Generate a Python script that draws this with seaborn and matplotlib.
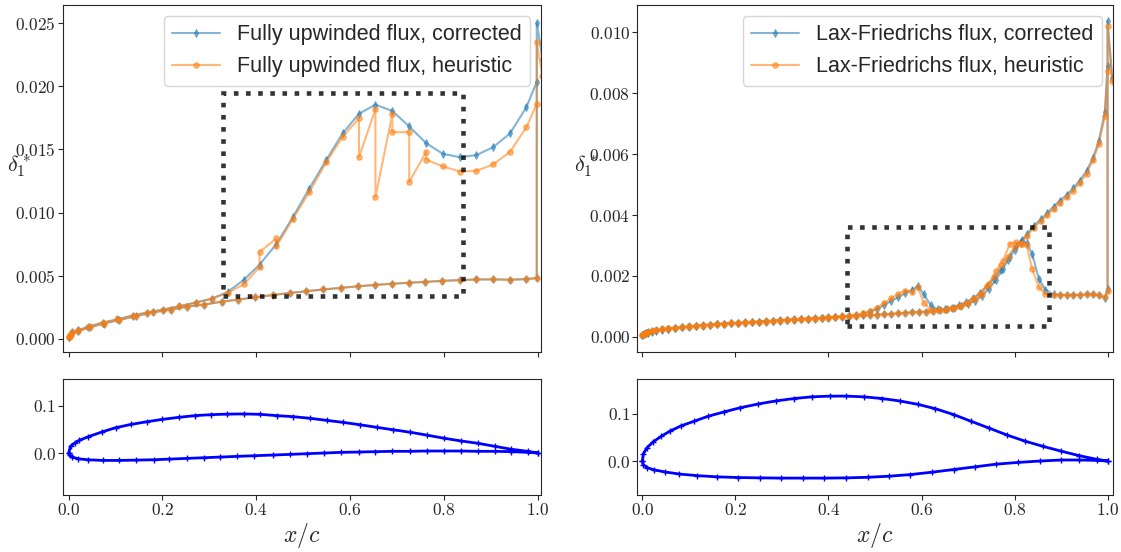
import matplotlib
matplotlib.use('Agg')
import matplotlib.pyplot as plt
import seaborn as sns
from matplotlib.patches import Rectangle
from matplotlib.ticker import FuncFormatter, MultipleLocator

sns.set_style('ticks')
plt.rcParams['font.family'] = ['Liberation Sans', 'DejaVu Sans']
plt.rcParams['mathtext.fontset'] = 'cm'

C_CORR = '#1f77b4'
C_HEUR = '#ff7f0e'

# ---------------- left case: fully upwinded flux ----------------
# upper surface, leading edge -> trailing edge
up_x_l = [0.0, 0.003, 0.008, 0.02, 0.042, 0.073, 0.104, 0.137, 0.168, 0.201,
          0.235, 0.271, 0.305, 0.339, 0.374, 0.407, 0.443, 0.478, 0.513, 0.549,
          0.584, 0.619, 0.654, 0.69, 0.726, 0.762, 0.798, 0.834, 0.869, 0.905,
          0.941, 0.976, 0.998]
up_corr_l = [0.0001, 0.0003, 0.0005, 0.00065, 0.00095, 0.00127, 0.00153, 0.00183, 0.00207, 0.0023,
             0.00256, 0.00286, 0.00317, 0.0037, 0.00468, 0.00587, 0.0075, 0.00963, 0.0119, 0.01415,
             0.01627, 0.01783, 0.01855, 0.01805, 0.01683, 0.0155, 0.01465, 0.01439, 0.01455, 0.01518,
             0.01627, 0.01836, 0.02037]
up_xh_l = [0.0, 0.003, 0.008, 0.02, 0.042, 0.073, 0.104, 0.137, 0.168, 0.201,
           0.235, 0.271, 0.305, 0.339, 0.374, 0.407, 0.407, 0.443, 0.443, 0.478,
           0.513, 0.549, 0.584, 0.619, 0.619, 0.654, 0.654, 0.69, 0.69, 0.726,
           0.726, 0.762, 0.762, 0.798, 0.834, 0.869, 0.905, 0.941, 0.976, 0.998]
up_heur_l = [0.0001, 0.0003, 0.0005, 0.00065, 0.00095, 0.00127, 0.00153, 0.00183, 0.00207, 0.0023,
             0.00256, 0.00286, 0.00317, 0.00362, 0.00433, 0.00566, 0.00687, 0.00794, 0.00733, 0.0095,
             0.0116, 0.01398, 0.016, 0.01746, 0.01439, 0.01817, 0.01121, 0.01778, 0.01637, 0.01637,
             0.0124, 0.01481, 0.0142, 0.01365, 0.01325, 0.0133, 0.01381, 0.01481, 0.01677, 0.01862]
# lower surface, leading edge -> trailing edge
lo_x_l = [0.0, 0.002, 0.006, 0.02, 0.045, 0.075, 0.108, 0.144, 0.18, 0.218,
          0.253, 0.288, 0.326, 0.362, 0.398, 0.436, 0.471, 0.507, 0.543, 0.58,
          0.616, 0.654, 0.689, 0.725, 0.76, 0.797, 0.834, 0.869, 0.905, 0.941,
          0.976, 0.998]
lo_corr_l = [0.0001, 0.00018, 0.0003, 0.0006, 0.0009, 0.0012, 0.00148, 0.0018, 0.00209, 0.0023,
             0.00254, 0.0027, 0.00293, 0.0031, 0.00328, 0.00346, 0.00362, 0.00376, 0.0039, 0.00402,
             0.00415, 0.00426, 0.00435, 0.00443, 0.0045, 0.00458, 0.00464, 0.00469, 0.0047, 0.00467,
             0.00472, 0.0048]
lo_heur_l = [0.0001, 0.00018, 0.0003, 0.0006, 0.0009, 0.0012, 0.00148, 0.0018, 0.00209, 0.0023,
             0.00254, 0.0027, 0.00292, 0.0031, 0.00328, 0.00346, 0.00362, 0.00376, 0.0039, 0.00402,
             0.00415, 0.00426, 0.00435, 0.00443, 0.0045, 0.00458, 0.00464, 0.00469, 0.0047, 0.00467,
             0.00472, 0.0048]
# wake
wk_x_l = [0.998, 1.01, 1.03]
wk_corr_l = [0.02505, 0.0222, 0.0200]
wk_heur_l = [0.0235, 0.0208, 0.0190]

# airfoil outline
af_ux_l = [0.0, 0.004, 0.013, 0.023, 0.041, 0.072, 0.1, 0.133, 0.167, 0.2, 0.235, 0.269, 0.304,
           0.338, 0.373, 0.408, 0.444, 0.479, 0.515, 0.55, 0.585, 0.621, 0.658, 0.692, 0.727,
           0.764, 0.8, 0.836, 0.872, 0.908, 0.944, 0.979, 1.0]
af_uy_l = [0.0, 0.0143, 0.0214, 0.027, 0.0343, 0.045, 0.0536, 0.0607, 0.0664, 0.0714, 0.0757,
           0.0793, 0.0814, 0.0825, 0.0829, 0.0821, 0.0793, 0.0771, 0.0736, 0.0693, 0.065, 0.06,
           0.0543, 0.0493, 0.0443, 0.0379, 0.0314, 0.0257, 0.0207, 0.0143, 0.0079, 0.0036, 0.0]
af_lx_l = [0.0, 0.002, 0.008, 0.019, 0.041, 0.073, 0.108, 0.144, 0.181, 0.215, 0.252, 0.288,
           0.323, 0.359, 0.396, 0.435, 0.472, 0.508, 0.544, 0.581, 0.618, 0.654, 0.69, 0.727,
           0.764, 0.8, 0.836, 0.873, 0.908, 0.944, 0.979, 1.0]
af_ly_l = [0.0, -0.005, -0.0086, -0.012, -0.0143, -0.0157, -0.0157, -0.015, -0.0143, -0.0129,
           -0.0114, -0.01, -0.0086, -0.0071, -0.0057, -0.0043, -0.0029, -0.0014, 0.0, 0.0014,
           0.0021, 0.0029, 0.0036, 0.0036, 0.0043, 0.0043, 0.0043, 0.0036, 0.0036, 0.0029,
           0.0014, 0.0]

# ---------------- right case: Lax-Friedrichs flux ----------------
up_x_r = [0.0, 0.003, 0.007, 0.013, 0.02, 0.03, 0.042, 0.056, 0.07, 0.085,
          0.1, 0.115, 0.13, 0.145, 0.16, 0.175, 0.19, 0.205, 0.22, 0.235,
          0.25, 0.265, 0.28, 0.295, 0.31, 0.325, 0.34, 0.355, 0.37, 0.385,
          0.4, 0.415, 0.43, 0.445, 0.46, 0.475, 0.49, 0.505, 0.52, 0.535,
          0.55, 0.565, 0.58, 0.592, 0.605, 0.62, 0.635, 0.65, 0.665, 0.68,
          0.695, 0.71, 0.725, 0.74, 0.755, 0.77, 0.785, 0.8, 0.813, 0.827,
          0.841, 0.856, 0.87, 0.884, 0.897, 0.912, 0.926, 0.94, 0.955, 0.969,
          0.981, 0.994, 1.0]
up_corr_r = [0.00005, 0.00009, 0.00012, 0.00015, 0.00018, 0.00021, 0.00024, 0.00027, 0.0003, 0.00032,
             0.00034, 0.00036, 0.00038, 0.0004, 0.00042, 0.00043, 0.00045, 0.00046, 0.00047, 0.00049,
             0.0005, 0.00051, 0.00053, 0.00054, 0.00056, 0.00057, 0.00058, 0.0006, 0.00061, 0.00062,
             0.00064, 0.00065, 0.00067, 0.00069, 0.00071, 0.00075, 0.00082, 0.00092, 0.00104, 0.00118,
             0.0013, 0.00143, 0.00155, 0.00166, 0.0014, 0.00103, 0.0009, 0.00091, 0.00096, 0.00103,
             0.00113, 0.00126, 0.00143, 0.00166, 0.00191, 0.00221, 0.00251, 0.00285, 0.00312, 0.00337,
             0.00364, 0.00386, 0.00406, 0.00428, 0.00447, 0.00466, 0.00488, 0.00513, 0.00545, 0.00589,
             0.00643, 0.00737, 0.0089]
up_heur_r = [0.00006, 0.0001, 0.00013, 0.00016, 0.00019, 0.00022, 0.00025, 0.00028, 0.0003, 0.00032,
             0.00034, 0.00036, 0.00038, 0.0004, 0.00042, 0.00043, 0.00045, 0.00046, 0.00047, 0.00049,
             0.0005, 0.00051, 0.00053, 0.00054, 0.00056, 0.00057, 0.00058, 0.0006, 0.00061, 0.00062,
             0.00064, 0.00065, 0.00067, 0.00069, 0.00071, 0.00077, 0.00085, 0.00096, 0.00112, 0.00126,
             0.00141, 0.00152, 0.00148, 0.00162, 0.00112, 0.00089, 0.00087, 0.00089, 0.00094, 0.00101,
             0.00111, 0.00124, 0.00142, 0.00168, 0.00196, 0.00236, 0.00262, 0.00295, 0.00305, 0.00332,
             0.00358, 0.0038, 0.004, 0.0042, 0.0044, 0.00458, 0.0048, 0.00505, 0.00536, 0.00582,
             0.00632, 0.00724, 0.00874]
lo_x_r = [0.0, 0.003, 0.007, 0.013, 0.02, 0.03, 0.042, 0.056, 0.07, 0.085,
          0.1, 0.115, 0.13, 0.145, 0.16, 0.175, 0.19, 0.205, 0.22, 0.235,
          0.25, 0.265, 0.28, 0.295, 0.31, 0.325, 0.34, 0.355, 0.37, 0.385,
          0.4, 0.415, 0.43, 0.445, 0.46, 0.475, 0.49, 0.505, 0.52, 0.535,
          0.55, 0.565, 0.58, 0.595, 0.61, 0.625, 0.64, 0.655, 0.67, 0.685,
          0.7, 0.715, 0.73, 0.745, 0.76, 0.775, 0.79, 0.803, 0.815, 0.826,
          0.838, 0.852, 0.866, 0.884, 0.897, 0.912, 0.926, 0.94, 0.955, 0.969,
          0.981, 0.994, 1.0]
lo_corr_r = [0.00005, 0.00008, 0.00011, 0.00014, 0.00017, 0.0002, 0.00023, 0.00026, 0.00029, 0.00031,
             0.00033, 0.00035, 0.00037, 0.00039, 0.00041, 0.00042, 0.00044, 0.00045, 0.00046, 0.00048,
             0.00049, 0.0005, 0.00052, 0.00053, 0.00055, 0.00056, 0.00057, 0.00059, 0.0006, 0.00061,
             0.00063, 0.00064, 0.00066, 0.00067, 0.00068, 0.0007, 0.00071, 0.00072, 0.00074, 0.00075,
             0.00077, 0.00078, 0.0008, 0.00081, 0.00083, 0.00085, 0.00088, 0.00091, 0.00096, 0.00101,
             0.00108, 0.00118, 0.00134, 0.00158, 0.00188, 0.00223, 0.00262, 0.00298, 0.00318, 0.00308,
             0.00272, 0.00191, 0.00155, 0.00139, 0.00137, 0.00137, 0.00137, 0.00138, 0.00139, 0.00139,
             0.00137, 0.00128, 0.00156]
lo_heur_r = [0.00006, 0.00009, 0.00012, 0.00015, 0.00018, 0.00021, 0.00024, 0.00027, 0.00029, 0.00031,
             0.00033, 0.00035, 0.00037, 0.00039, 0.00041, 0.00042, 0.00044, 0.00045, 0.00046, 0.00048,
             0.00049, 0.0005, 0.00052, 0.00053, 0.00055, 0.00056, 0.00057, 0.00059, 0.0006, 0.00061,
             0.00063, 0.00064, 0.00066, 0.00067, 0.00068, 0.0007, 0.00071, 0.00072, 0.00074, 0.00075,
             0.00077, 0.00078, 0.0008, 0.00081, 0.00083, 0.00085, 0.00088, 0.00091, 0.00096, 0.00101,
             0.00112, 0.00125, 0.00142, 0.00172, 0.00215, 0.0025, 0.00305, 0.00312, 0.00305, 0.00302,
             0.00222, 0.00164, 0.0014, 0.00138, 0.00137, 0.00137, 0.00137, 0.00138, 0.00139, 0.00139,
             0.00137, 0.0013, 0.00152]
wk_x_r = [1.0, 1.01, 1.03]
wk_corr_r = [0.01038, 0.0085, 0.0075]
wk_heur_r = [0.0102, 0.0084, 0.0074]

af_ux_r = [0.0, 0.002, 0.01, 0.023, 0.041, 0.06, 0.083, 0.11, 0.141, 0.176, 0.21, 0.249, 0.287,
           0.326, 0.364, 0.403, 0.438, 0.476, 0.515, 0.553, 0.592, 0.63, 0.669, 0.707, 0.746,
           0.784, 0.823, 0.861, 0.9, 0.938, 0.977, 1.0]
af_uy_r = [0.0, 0.0152, 0.0283, 0.0406, 0.0529, 0.0638, 0.0746, 0.084, 0.0949, 0.1043, 0.113,
           0.121, 0.1275, 0.1326, 0.1362, 0.1377, 0.1377, 0.1362, 0.1326, 0.1275, 0.1203, 0.1109,
           0.0986, 0.0841, 0.0696, 0.0551, 0.042, 0.0312, 0.021, 0.0116, 0.0036, 0.0]
af_lx_r = [0.0, 0.002, 0.01, 0.025, 0.049, 0.079, 0.118, 0.16, 0.206, 0.253, 0.299, 0.345, 0.391,
           0.438, 0.484, 0.53, 0.576, 0.622, 0.669, 0.715, 0.761, 0.807, 0.854, 0.9, 0.938, 0.977, 1.0]
af_ly_r = [0.0, -0.008, -0.0138, -0.0188, -0.0232, -0.0275, -0.031, -0.0335, -0.035, -0.0357,
           -0.0362, -0.0362, -0.0362, -0.0357, -0.0345, -0.0322, -0.0287, -0.0237, -0.018, -0.0123,
           -0.0066, -0.003, 0.0, 0.0022, 0.0022, 0.0014, 0.0]


def cm_fmt(digits):
    return FuncFormatter(lambda v, p: f'${v:.{digits}f}$')


# displacement thickness along upper (TE->LE), lower (LE->TE) and wake
def thickness_panel(ax, name, upx, upc, upxh, uph, lox, loc_, loh, wkx, wkc, wkh):
    xc = upx[::-1] + lox + wkx
    yc = upc[::-1] + loc_ + wkc
    xh = upxh[::-1] + lox + wkx
    yh = uph[::-1] + loh + wkh
    sns.lineplot(x=xc, y=yc, sort=False, estimator=None, ax=ax, color=C_CORR, alpha=0.55,
                 lw=1.5, marker='d', markersize=4, markeredgecolor=C_CORR, markeredgewidth=0.8,
                 label=f'{name} flux, corrected')
    sns.lineplot(x=xh, y=yh, sort=False, estimator=None, ax=ax, color=C_HEUR, alpha=0.55,
                 lw=1.5, marker='o', markersize=4, markeredgecolor=C_HEUR, markeredgewidth=0.8,
                 label=f'{name} flux, heuristic')
    ax.legend(loc='upper right', fontsize=15.5, handlelength=2.2)
    ax.set_xticks([0, 0.2, 0.4, 0.6, 0.8, 1.0])
    ax.set_xticklabels([])
    ax.set_xlabel('')
    ax.set_ylabel(r'$\delta_1^*$', rotation=0, fontsize=16, va='center', ha='center')
    ax.yaxis.set_major_formatter(cm_fmt(3))
    ax.tick_params(labelsize=12.5, length=3.5, pad=1.5)


def airfoil_panel(ax, ux, uy, lx, ly):
    x = ux[::-1] + lx
    y = uy[::-1] + ly
    sns.lineplot(x=x, y=y, sort=False, estimator=None, ax=ax, color='blue', lw=2,
                 marker='+', markersize=4, markeredgecolor='blue', markeredgewidth=1)
    ax.set_xticks([0, 0.2, 0.4, 0.6, 0.8, 1.0])
    ax.yaxis.set_major_locator(MultipleLocator(0.1))
    ax.xaxis.set_major_formatter(cm_fmt(1))
    ax.yaxis.set_major_formatter(cm_fmt(1))
    ax.set_xlabel(r'$x/c$', fontsize=17, labelpad=2)
    ax.set_ylabel('')
    ax.tick_params(labelsize=12.5, length=3.5, pad=1.5)


fig = plt.figure(figsize=(11.21, 5.52), dpi=100)
ax1 = fig.add_axes([0.0562, 0.3623, 0.4264, 0.6286])
ax2 = fig.add_axes([0.5685, 0.3623, 0.4241, 0.6286])
ax3 = fig.add_axes([0.0562, 0.1033, 0.4264, 0.2101])
ax4 = fig.add_axes([0.5685, 0.1033, 0.4241, 0.2101])

thickness_panel(ax1, 'Fully upwinded', up_x_l, up_corr_l, up_xh_l, up_heur_l,
                lo_x_l, lo_corr_l, lo_heur_l, wk_x_l, wk_corr_l, wk_heur_l)
ax1.set_xlim(-0.012, 1.007)
ax1.set_ylim(-0.00106, 0.02645)
ax1.yaxis.set_major_locator(MultipleLocator(0.005))
ax1.yaxis.set_label_coords(-0.093, 0.535)
ax1.add_patch(Rectangle((0.33, 0.0034), 0.51, 0.0161, fill=False, ec='k', alpha=0.8,
                        ls=':', lw=3.3, zorder=5))

thickness_panel(ax2, 'Lax-Friedrichs', up_x_r, up_corr_r, up_x_r, up_heur_r,
                lo_x_r, lo_corr_r, lo_heur_r, wk_x_r, wk_corr_r, wk_heur_r)
ax2.set_xlim(-0.011, 1.011)
ax2.set_ylim(-0.0005, 0.0109)
ax2.yaxis.set_major_locator(MultipleLocator(0.002))
ax2.yaxis.set_label_coords(-0.107, 0.535)
ax2.add_patch(Rectangle((0.44, 0.00037), 0.433, 0.00324, fill=False, ec='k', alpha=0.8,
                        ls=':', lw=3.3, zorder=5))

airfoil_panel(ax3, af_ux_l, af_uy_l, af_lx_l, af_ly_l)
ax3.set_xlim(-0.012, 1.007)
ax3.set_ylim(-0.089, 0.157)

airfoil_panel(ax4, af_ux_r, af_uy_r, af_lx_r, af_ly_r)
ax4.set_xlim(-0.011, 1.011)
ax4.set_ylim(-0.072, 0.174)

fig.savefig('out.png', dpi=100)
